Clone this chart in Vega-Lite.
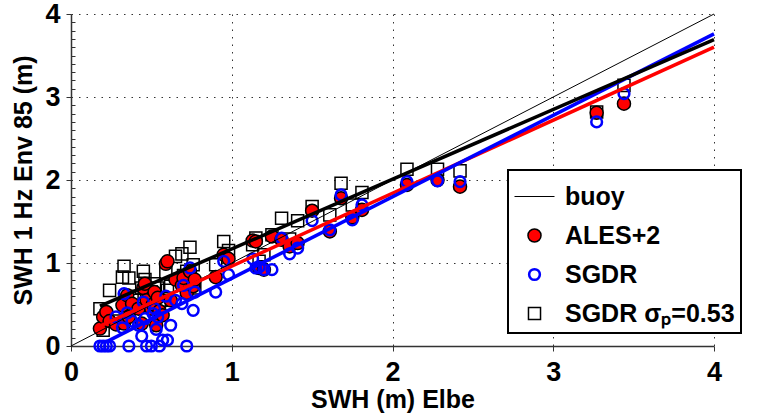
{
  "$schema": "https://vega.github.io/schema/vega-lite/v6.json",
  "width": 643,
  "height": 332,
  "autosize": "none",
  "padding": {"left": 71, "top": 14, "right": 49, "bottom": 70},
  "background": "white",
  "config": {
    "view": {"stroke": null},
    "font": "Liberation Sans",
    "axis": {
      "labelFont": "Liberation Sans",
      "labelFontWeight": "bold",
      "labelFontSize": 27,
      "labelColor": "#000000",
      "titleFont": "Liberation Sans",
      "titleFontWeight": "bold",
      "titleFontSize": 25,
      "titleColor": "#000000",
      "domainColor": "#333333",
      "domainWidth": 1.5,
      "tickColor": "#333333",
      "gridColor": "#333333",
      "gridDash": [1.5, 6],
      "gridWidth": 1,
      "labelOverlap": false,
      "labelFlush": false,
      "format": "d"
    },
    "legend": {
      "orient": "none",
      "legendX": 437,
      "legendY": 156,
      "title": null,
      "labelFont": "Liberation Sans",
      "labelFontWeight": "bold",
      "labelFontSize": 25,
      "labelColor": "#000000",
      "labelLimit": 400,
      "strokeColor": "#000000",
      "strokeWidth": 2,
      "fillColor": "white",
      "padding": 6,
      "rowPadding": 13,
      "labelOffset": 10,
      "cornerRadius": 0
    }
  },
  "datasets": {
    "pts": [
      {"x": 0.18, "ales": 0.21, "sgdr": 0.00, "sq": 0.45},
      {"x": 0.20, "ales": 0.35, "sgdr": 0.00, "sq": 0.19},
      {"x": 0.22, "ales": 0.41, "sgdr": 0.00, "sq": 0.36},
      {"x": 0.24, "ales": 0.30, "sgdr": 0.00, "sq": 0.67},
      {"x": 0.28, "ales": 0.26, "sgdr": 0.35, "sq": 0.30},
      {"x": 0.32, "ales": 0.49, "sgdr": 0.22, "sq": 0.83},
      {"x": 0.33, "ales": 0.27, "sgdr": 0.63, "sq": 0.96},
      {"x": 0.35, "ales": 0.61, "sgdr": 0.40, "sq": 0.50},
      {"x": 0.36, "ales": 0.35, "sgdr": 0.00, "sq": 0.82},
      {"x": 0.38, "ales": 0.51, "sgdr": 0.30, "sq": 0.60},
      {"x": 0.42, "ales": 0.45, "sgdr": 0.25, "sq": 0.55},
      {"x": 0.44, "ales": 0.27, "sgdr": 0.12, "sq": 0.70},
      {"x": 0.45, "ales": 0.70, "sgdr": 0.53, "sq": 0.90},
      {"x": 0.46, "ales": 0.75, "sgdr": 0.33, "sq": 0.80},
      {"x": 0.47, "ales": 0.55, "sgdr": 0.00, "sq": 0.62},
      {"x": 0.50, "ales": 0.45, "sgdr": 0.00, "sq": 0.65},
      {"x": 0.51, "ales": 0.50, "sgdr": 0.39, "sq": 0.58},
      {"x": 0.52, "ales": 0.65, "sgdr": 0.45, "sq": 0.75},
      {"x": 0.53, "ales": 0.25, "sgdr": 0.20, "sq": 0.40},
      {"x": 0.54, "ales": 0.58, "sgdr": 0.35, "sq": 0.70},
      {"x": 0.55, "ales": 0.42, "sgdr": 0.00, "sq": 0.52},
      {"x": 0.57, "ales": 0.37, "sgdr": 0.07, "sq": 0.55},
      {"x": 0.59, "ales": 0.99, "sgdr": 0.60, "sq": 0.88},
      {"x": 0.60, "ales": 1.02, "sgdr": 0.07, "sq": 0.67},
      {"x": 0.62, "ales": 0.55, "sgdr": 0.25, "sq": 0.72},
      {"x": 0.65, "ales": 0.80, "sgdr": 0.55, "sq": 1.08},
      {"x": 0.69, "ales": 0.73, "sgdr": 0.51, "sq": 1.11},
      {"x": 0.70, "ales": 0.82, "sgdr": 0.73, "sq": 0.85},
      {"x": 0.72, "ales": 0.64, "sgdr": 0.00, "sq": 0.90},
      {"x": 0.74, "ales": 0.90, "sgdr": 0.94, "sq": 1.19},
      {"x": 0.76, "ales": 0.72, "sgdr": 0.43, "sq": 0.98},
      {"x": 0.77, "ales": 0.80, "sgdr": 0.65, "sq": 0.70},
      {"x": 0.90, "ales": 0.83, "sgdr": 0.65, "sq": 0.98},
      {"x": 0.95, "ales": 1.10, "sgdr": 1.02, "sq": 1.26},
      {"x": 0.98, "ales": 1.05, "sgdr": 0.86, "sq": 1.15},
      {"x": 1.13, "ales": 1.27, "sgdr": 1.05, "sq": 1.22},
      {"x": 1.15, "ales": 1.26, "sgdr": 0.94, "sq": 1.30},
      {"x": 1.17, "ales": 0.94, "sgdr": 0.95, "sq": 1.02},
      {"x": 1.20, "ales": 0.92, "sgdr": 0.92, "sq": 1.10},
      {"x": 1.25, "ales": 1.32, "sgdr": 0.92, "sq": 1.34},
      {"x": 1.31, "ales": 1.28, "sgdr": 1.30, "sq": 1.54},
      {"x": 1.36, "ales": 1.20, "sgdr": 1.11, "sq": 1.29},
      {"x": 1.41, "ales": 1.24, "sgdr": 1.18, "sq": 1.51},
      {"x": 1.50, "ales": 1.63, "sgdr": 1.51, "sq": 1.68},
      {"x": 1.61, "ales": 1.38, "sgdr": 1.40, "sq": 1.58},
      {"x": 1.68, "ales": 1.78, "sgdr": 1.82, "sq": 1.96},
      {"x": 1.75, "ales": 1.55, "sgdr": 1.52, "sq": 1.70},
      {"x": 1.81, "ales": 1.64, "sgdr": 1.70, "sq": 1.85},
      {"x": 2.09, "ales": 1.94, "sgdr": 1.98, "sq": 2.13},
      {"x": 2.28, "ales": 2.00, "sgdr": 1.99, "sq": 2.13},
      {"x": 2.42, "ales": 1.92, "sgdr": 1.98, "sq": 2.11},
      {"x": 3.27, "ales": 2.81, "sgdr": 2.70, "sq": 2.82},
      {"x": 3.44, "ales": 2.92, "sgdr": 3.04, "sq": 3.14}
    ],
    "fits": [
      {"fit": "buoy", "x": 0, "y": 0},
      {"fit": "buoy", "x": 4, "y": 4},
      {"fit": "ales", "x": 0.18, "y": 0.24},
      {"fit": "ales", "x": 4, "y": 3.6},
      {"fit": "sgdr", "x": 0.22, "y": 0.05},
      {"fit": "sgdr", "x": 4, "y": 3.76},
      {"fit": "sq", "x": 0.18, "y": 0.48},
      {"fit": "sq", "x": 4, "y": 3.69}
    ]
  },
  "encoding": {
    "x": {
      "field": "x",
      "type": "quantitative",
      "scale": {"domain": [0, 4], "nice": false, "zero": false},
      "axis": {
        "title": "SWH (m) Elbe",
        "values": [0, 1, 2, 3, 4],
        "grid": true,
        "tickSize": 5,
        "labelPadding": 8,
        "titlePadding": 2
      }
    },
    "y": {
      "field": "y",
      "type": "quantitative",
      "scale": {"domain": [0, 4], "nice": false, "zero": false},
      "axis": {
        "title": "SWH 1 Hz Env 85 (m)",
        "values": [0, 0.1, 0.2, 0.3, 0.4, 0.5, 0.6, 0.7, 0.8, 0.9, 1, 1.1, 1.2, 1.3, 1.4, 1.5, 1.6, 1.7, 1.8, 1.9, 2, 2.1, 2.2, 2.3, 2.4, 2.5, 2.6, 2.7, 2.8, 2.9, 3, 3.1, 3.2, 3.3, 3.4, 3.5, 3.6, 3.7, 3.8, 3.9, 4],
        "labelExpr": "abs(datum.value - round(datum.value)) < 0.001 ? datum.label : ''",
        "grid": true,
        "gridOpacity": {"condition": {"test": "abs(datum.value - round(datum.value)) < 0.001", "value": 1}, "value": 0},
        "tickSize": {"condition": {"test": "abs(datum.value - round(datum.value)) < 0.001", "value": 5}, "value": -4},
        "labelPadding": 6,
        "titlePadding": 8
      }
    }
  },
  "layer": [
    {
      "data": {"name": "pts"},
      "transform": [
        {"fold": ["ales", "sgdr", "sq"], "as": ["series", "y"]},
        {"filter": "datum.series === 'sq'"}
      ],
      "mark": {"type": "point", "filled": true, "opacity": 1},
      "encoding": {
        "shape": {"field": "series", "type": "nominal", "scale": {"domain": ["buoy", "ales", "sgdr", "sq"], "range": ["stroke", "circle", "circle", "square"]}, "legend": {"labelExpr": "datum.label === 'buoy' ? 'buoy' : datum.label === 'ales' ? 'ALES+2' : datum.label === 'sgdr' ? 'SGDR' : 'SGDR σₚ=0.53'"}},
        "fill": {"field": "series", "type": "nominal", "scale": {"domain": ["buoy", "ales", "sgdr", "sq"], "range": ["transparent", "#ff0000", "transparent", "transparent"]}},
        "stroke": {"field": "series", "type": "nominal", "scale": {"domain": ["buoy", "ales", "sgdr", "sq"], "range": ["#000000", "#000000", "#0000ff", "#000000"]}},
        "size": {"field": "series", "type": "nominal", "scale": {"type": "ordinal", "domain": ["buoy", "ales", "sgdr", "sq"], "range": [1600, 170, 115, 145]}},
        "strokeWidth": {"field": "series", "type": "nominal", "scale": {"type": "ordinal", "domain": ["buoy", "ales", "sgdr", "sq"], "range": [1, 1.5, 2.5, 1.5]}}
      }
    },
    {
      "data": {"name": "pts"},
      "transform": [
        {"fold": ["ales", "sgdr", "sq"], "as": ["series", "y"]},
        {"filter": "datum.series === 'ales'"}
      ],
      "mark": {"type": "point", "filled": true, "opacity": 1},
      "encoding": {
        "shape": {"field": "series", "type": "nominal", "scale": {"domain": ["buoy", "ales", "sgdr", "sq"], "range": ["stroke", "circle", "circle", "square"]}},
        "fill": {"field": "series", "type": "nominal", "scale": {"domain": ["buoy", "ales", "sgdr", "sq"], "range": ["transparent", "#ff0000", "transparent", "transparent"]}},
        "stroke": {"field": "series", "type": "nominal", "scale": {"domain": ["buoy", "ales", "sgdr", "sq"], "range": ["#000000", "#000000", "#0000ff", "#000000"]}},
        "size": {"field": "series", "type": "nominal", "scale": {"type": "ordinal", "domain": ["buoy", "ales", "sgdr", "sq"], "range": [1600, 170, 115, 145]}},
        "strokeWidth": {"field": "series", "type": "nominal", "scale": {"type": "ordinal", "domain": ["buoy", "ales", "sgdr", "sq"], "range": [1, 1.5, 2.5, 1.5]}}
      }
    },
    {
      "data": {"name": "pts"},
      "transform": [
        {"fold": ["ales", "sgdr", "sq"], "as": ["series", "y"]},
        {"filter": "datum.series === 'sgdr'"}
      ],
      "mark": {"type": "point", "filled": true, "opacity": 1},
      "encoding": {
        "shape": {"field": "series", "type": "nominal", "scale": {"domain": ["buoy", "ales", "sgdr", "sq"], "range": ["stroke", "circle", "circle", "square"]}},
        "fill": {"field": "series", "type": "nominal", "scale": {"domain": ["buoy", "ales", "sgdr", "sq"], "range": ["transparent", "#ff0000", "transparent", "transparent"]}},
        "stroke": {"field": "series", "type": "nominal", "scale": {"domain": ["buoy", "ales", "sgdr", "sq"], "range": ["#000000", "#000000", "#0000ff", "#000000"]}},
        "size": {"field": "series", "type": "nominal", "scale": {"type": "ordinal", "domain": ["buoy", "ales", "sgdr", "sq"], "range": [1600, 170, 115, 145]}},
        "strokeWidth": {"field": "series", "type": "nominal", "scale": {"type": "ordinal", "domain": ["buoy", "ales", "sgdr", "sq"], "range": [1, 1.5, 2.5, 1.5]}}
      }
    },
    {
      "data": {"name": "fits"},
      "transform": [{"filter": "datum.fit === 'buoy'"}],
      "mark": {"type": "line", "color": "#000000", "strokeWidth": 1},
      "encoding": {}
    },
    {
      "data": {"name": "fits"},
      "transform": [{"filter": "datum.fit !== 'buoy'"}],
      "mark": {"type": "line", "strokeWidth": 3.5},
      "encoding": {
        "color": {"field": "fit", "type": "nominal", "scale": {"domain": ["ales", "sgdr", "sq"], "range": ["#ff0000", "#0000ff", "#000000"]}, "legend": null}
      }
    }
  ]
}
